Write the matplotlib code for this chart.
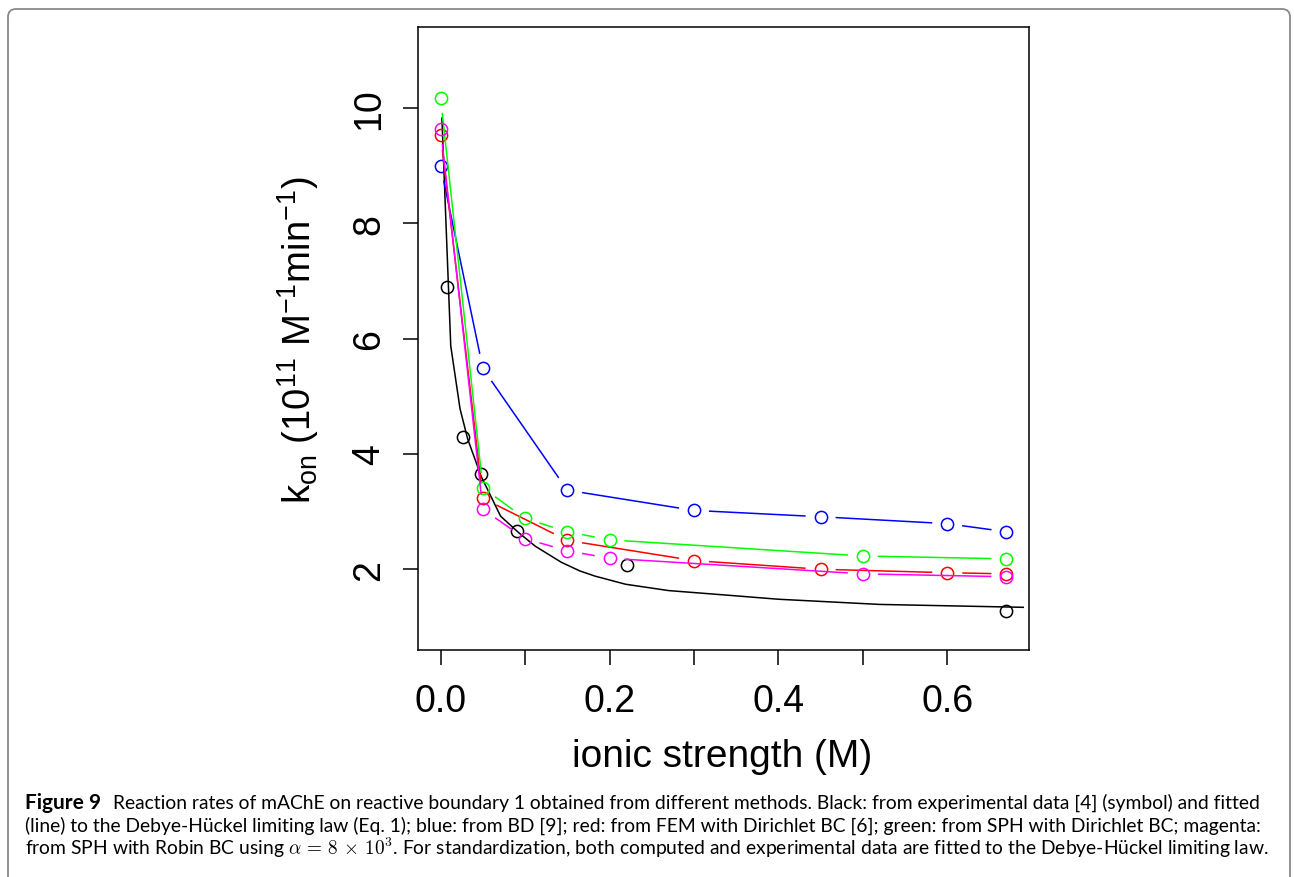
import numpy as np
import matplotlib
matplotlib.use("Agg")
import matplotlib.pyplot as plt
from matplotlib.patches import FancyBboxPatch
from matplotlib.transforms import IdentityTransform

# experimental points (black circles) and the fitted Debye-Hueckel curve
ionic_exp = [0.008, 0.026, 0.048, 0.090, 0.221, 0.67]
kon_exp = [6.90, 4.29, 3.65, 2.66, 2.07, 1.27]
fit_x = [0.0015, 0.012, 0.023, 0.032, 0.048, 0.071, 0.092, 0.112, 0.143,
         0.165, 0.183, 0.219, 0.27, 0.34, 0.40, 0.52, 0.69]
fit_y = [9.82, 5.87, 4.78, 4.26, 3.61, 2.92, 2.64, 2.40, 2.12,
         1.97, 1.88, 1.74, 1.63, 1.55, 1.48, 1.39, 1.34]

# BD (blue) and FEM Dirichlet (red)
ionic_bd = [0, 0.05, 0.15, 0.3, 0.45, 0.6, 0.67]
kon_bd = [8.99, 5.48, 3.37, 3.02, 2.91, 2.79, 2.65]
kon_fem = [9.53, 3.23, 2.50, 2.15, 2.00, 1.94, 1.92]

# SPH Dirichlet (green) and SPH Robin (magenta)
ionic_sph = [0, 0.05, 0.1, 0.15, 0.2, 0.5, 0.67]
kon_sph_dir = [10.17, 3.41, 2.88, 2.65, 2.51, 2.23, 2.18]
kon_sph_rob = [9.63, 3.04, 2.53, 2.32, 2.19, 1.92, 1.87]

x_ticks = [0, 0.1, 0.2, 0.3, 0.4, 0.5, 0.6]
x_ticklabels = ["0.0", "", "0.2", "", "0.4", "", "0.6"]
y_ticks = [2, 4, 6, 8, 10]

W, H = 1294, 878
LW = 1.1
MS = 8.8
GAP = 15  # px, like R type="b"

plt.rcParams['font.family'] = ['Liberation Sans', 'DejaVu Sans']
plt.rcParams['mathtext.fontset'] = 'custom'
plt.rcParams['mathtext.rm'] = 'Liberation Sans'
plt.rcParams['mathtext.it'] = 'Liberation Sans:italic'

fig = plt.figure(figsize=(W / 100, H / 100), dpi=100)
fig.patch.set_facecolor('white')

left, right, top, bottom = 418, 1029, 28, 651
ax = fig.add_axes([left / W, 1 - bottom / H, (right - left) / W, (bottom - top) / H])
ax.set_xlim(-0.0268, 0.6968)
ax.set_ylim(0.6, 11.4)

for s in ax.spines.values():
    s.set_linewidth(1.1)
ax.set_xticks(x_ticks)
ax.set_xticklabels(x_ticklabels)
ax.set_yticks(y_ticks)
ax.set_yticklabels([str(v) for v in y_ticks], rotation=90, va='center')
ax.tick_params(direction='out', length=11, width=1.1, labelsize=27, pad=13)
ax.tick_params(axis='y', pad=11)


def plot_type_b(xs, ys, color):
    # lines with gaps around the points, R style
    pts = ax.transData.transform(np.column_stack([xs, ys]))
    inv = ax.transData.inverted()
    for p0, p1 in zip(pts[:-1], pts[1:]):
        d = p1 - p0
        L = np.hypot(*d)
        if L <= 2 * GAP:
            continue
        u = d / L
        a = inv.transform(p0 + u * GAP)
        b = inv.transform(p1 - u * GAP)
        ax.plot([a[0], b[0]], [a[1], b[1]], color=color, lw=LW,
                solid_capstyle='butt')
    ax.plot(xs, ys, 'o', ms=MS, mfc='none', mec=color, mew=LW)


ax.plot(fit_x, fit_y, color='black', lw=LW)
ax.plot(ionic_exp, kon_exp, 'o', ms=MS, mfc='none', mec='black', mew=LW)
plot_type_b(ionic_bd, kon_bd, '#0000FF')
plot_type_b(ionic_bd, kon_fem, '#FF0000')
plot_type_b(ionic_sph, kon_sph_dir, '#00FF00')
plot_type_b(ionic_sph, kon_sph_rob, '#FF00FF')

fig.text(722 / W, 1 - 757 / H, "ionic strength (M)", fontsize=28,
         ha='center', va='center')
fig.text(298 / W, 1 - 340 / H,
         r"k$_{\mathrm{on}}$ (10$^{11}$ M$^{-1}$min$^{-1}$)",
         fontsize=27.5, rotation=90, ha='center', va='center')

# caption
cap_font = ['Lato', 'DejaVu Sans']
cap_size = 13.85
fig.text(25 / W, 1 - 809 / H, "Figure 9", fontsize=15, fontweight='bold',
         family=cap_font)
fig.text(113 / W, 1 - 809 / H,
         "Reaction rates of mAChE on reactive boundary 1 obtained from different "
         "methods. Black: from experimental data [4] (symbol) and fitted",
         fontsize=cap_size, family=cap_font)
fig.text(25 / W, 1 - 832 / H,
         "(line) to the Debye-H\u00fcckel limiting law (Eq. 1); blue: from BD [9]; "
         "red: from FEM with Dirichlet BC [6]; green: from SPH with Dirichlet BC; magenta:",
         fontsize=cap_size, family=cap_font)
fig.text(25 / W, 1 - 855 / H,
         r"from SPH with Robin BC using $\alpha\,=\,8\,\times\,10^{3}$. For standardization, "
         "both computed and experimental data are fitted to the Debye-H\u00fcckel limiting law.",
         fontsize=cap_size, family=cap_font, math_fontfamily='cm')

# rounded frame
frame = FancyBboxPatch((8, -30), 1282, 868 + 30, boxstyle="round,pad=0,rounding_size=8",
                       transform=IdentityTransform(), fill=False,
                       edgecolor='#8a8a8a', linewidth=1.3)
fig.add_artist(frame)

fig.savefig("out.png", dpi=100)
